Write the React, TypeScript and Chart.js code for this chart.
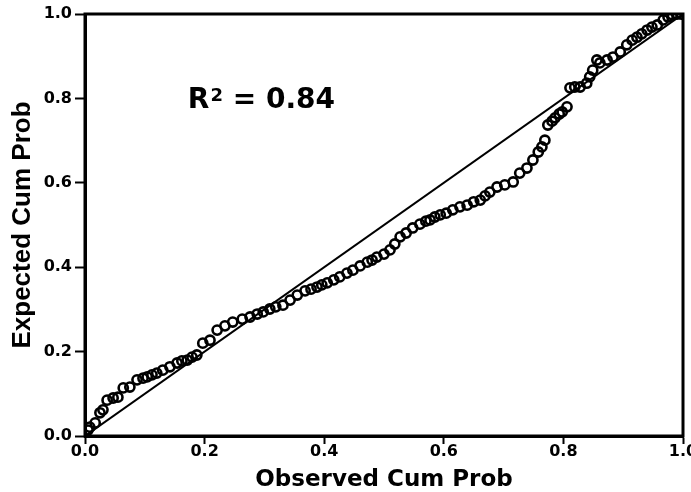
import React, { useEffect, useRef } from "react";
import { Chart, registerables } from "chart.js";

Chart.register(...registerables);

const observed = [0.005,0.008,0.017,0.025,0.030,0.037,0.047,0.055,0.064,0.075,0.087,0.097,0.104,0.112,0.120,0.130,0.142,0.154,0.162,0.171,0.179,0.187,0.197,0.209,0.221,0.234,0.247,0.263,0.276,0.288,0.298,0.309,0.319,0.331,0.343,0.355,0.368,0.378,0.388,0.396,0.405,0.416,0.426,0.438,0.448,0.460,0.472,0.480,0.488,0.500,0.510,0.518,0.527,0.537,0.548,0.560,0.570,0.577,0.585,0.594,0.604,0.615,0.627,0.639,0.650,0.661,0.669,0.677,0.689,0.702,0.716,0.727,0.739,0.749,0.758,0.764,0.769,0.774,0.781,0.786,0.793,0.798,0.806,0.811,0.819,0.828,0.839,0.844,0.849,0.856,0.861,0.873,0.883,0.895,0.906,0.915,0.923,0.931,0.940,0.948,0.957,0.967,0.975,0.982,0.990,0.997];
const expected = [0.014,0.021,0.031,0.055,0.062,0.085,0.090,0.092,0.114,0.116,0.133,0.137,0.140,0.145,0.149,0.156,0.164,0.173,0.178,0.180,0.187,0.192,0.220,0.227,0.251,0.261,0.270,0.277,0.282,0.289,0.294,0.301,0.306,0.310,0.322,0.334,0.344,0.348,0.353,0.358,0.363,0.370,0.377,0.386,0.393,0.403,0.412,0.417,0.424,0.431,0.441,0.455,0.472,0.481,0.493,0.502,0.509,0.512,0.519,0.524,0.528,0.536,0.543,0.547,0.555,0.559,0.569,0.578,0.590,0.595,0.602,0.623,0.635,0.654,0.673,0.685,0.701,0.737,0.746,0.754,0.763,0.768,0.780,0.825,0.827,0.827,0.836,0.851,0.867,0.891,0.884,0.891,0.898,0.910,0.927,0.938,0.945,0.953,0.962,0.969,0.974,0.986,0.993,0.998,1.0,1.0];
const refLine = [0, 1];
const tickValues = [0, 0.2, 0.4, 0.6, 0.8, 1.0];
const xTitle = "Observed Cum Prob";
const yTitle = "Expected Cum Prob";
const rsqLabel = { base: "R", sup: "2", rest: " = 0.84", x: 0.172, y: 0.777 };

export default function App() {
  const ref = useRef<HTMLCanvasElement>(null);
  useEffect(() => {
    if (!ref.current) return;
    const framePlugin = {
      id: "frame",
      afterDraw(chart: any) {
        const { ctx, chartArea: a, scales } = chart;
        ctx.save();
        ctx.strokeStyle = "#000";
        ctx.lineWidth = 3;
        ctx.strokeRect(a.left, a.top, a.right - a.left, a.bottom - a.top);
        const px = scales.x.getPixelForValue(rsqLabel.x);
        const py = scales.y.getPixelForValue(rsqLabel.y);
        ctx.fillStyle = "#000";
        ctx.textBaseline = "alphabetic";
        ctx.textAlign = "left";
        ctx.font = "bold 28px 'DejaVu Sans'";
        ctx.fillText(rsqLabel.base, px, py);
        let w = ctx.measureText(rsqLabel.base).width;
        ctx.font = "bold 18px 'DejaVu Sans'";
        ctx.fillText(rsqLabel.sup, px + w + 1, py - 7);
        w += ctx.measureText(rsqLabel.sup).width + 1;
        ctx.font = "bold 28px 'DejaVu Sans'";
        ctx.fillText(rsqLabel.rest, px + w, py);
        ctx.restore();
      },
    };
    const chart = new Chart(ref.current, {
      type: "scatter",
      data: {
        datasets: [
          {
            type: "line",
            data: refLine.map((v) => ({ x: v, y: v })),
            borderColor: "#000",
            borderWidth: 2,
            pointRadius: 0,
            order: 2,
          } as any,
          {
            data: observed.map((v, i) => ({ x: v, y: expected[i] })),
            borderColor: "#000",
            backgroundColor: "rgba(0,0,0,0)",
            borderWidth: 2.6,
            pointRadius: 4.6,
            order: 1,
          },
        ],
      },
      options: {
        responsive: false,
        animation: false,
        layout: { padding: { left: 0, right: 8, top: 14, bottom: 0 } },
        plugins: { legend: { display: false }, tooltip: { enabled: false } },
        scales: {
          x: {
            type: "linear",
            min: 0,
            max: 1,
            afterBuildTicks: (s: any) => {
              s.ticks = tickValues.map((v) => ({ value: v }));
            },
            afterFit: (s: any) => {
              s.height = 56;
              s.paddingLeft = 0;
              s.paddingRight = 0;
            },
            ticks: {
              color: "#000",
              font: { family: "'DejaVu Sans'", weight: "bold", size: 16, lineHeight: 1 },
              padding: 0,
              maxRotation: 0,
              callback: (v: any) => Number(v).toFixed(1),
            },
            grid: { drawOnChartArea: false, drawTicks: true, tickLength: 8, tickWidth: 2, tickColor: "#000" },
            border: { display: true, color: "#000", width: 3 },
            title: {
              display: true,
              text: xTitle,
              color: "#000",
              font: { family: "'DejaVu Sans'", weight: "bold", size: 23, lineHeight: 1 },
              padding: { top: 0, bottom: 0 },
            },
          },
          y: {
            type: "linear",
            min: 0,
            max: 1,
            afterBuildTicks: (s: any) => {
              s.ticks = tickValues.map((v) => ({ value: v }));
            },
            afterFit: (s: any) => {
              s.width = 85;
              s.paddingTop = 0;
              s.paddingBottom = 0;
            },
            ticks: {
              color: "#000",
              font: { family: "'DejaVu Sans'", weight: "bold", size: 16 },
              padding: 3,
              callback: (v: any) => Number(v).toFixed(1),
            },
            grid: { drawOnChartArea: false, drawTicks: true, tickLength: 10, tickWidth: 2, tickColor: "#000" },
            border: { display: true, color: "#000", width: 3 },
            title: {
              display: true,
              text: yTitle,
              color: "#000",
              font: { family: "'Liberation Sans'", weight: "bold", size: 26, lineHeight: 1.2 },
              padding: { top: 7, bottom: 0 },
            },
          },
        },
      },
      plugins: [framePlugin],
    });
    return () => chart.destroy();
  }, []);
  return (
    <div style={{ position: "fixed", left: 0, top: 0, width: 691, height: 492, background: "#fff" }}>
      <canvas ref={ref} width={691} height={492} style={{ width: 691, height: 492 }} />
    </div>
  );
}
